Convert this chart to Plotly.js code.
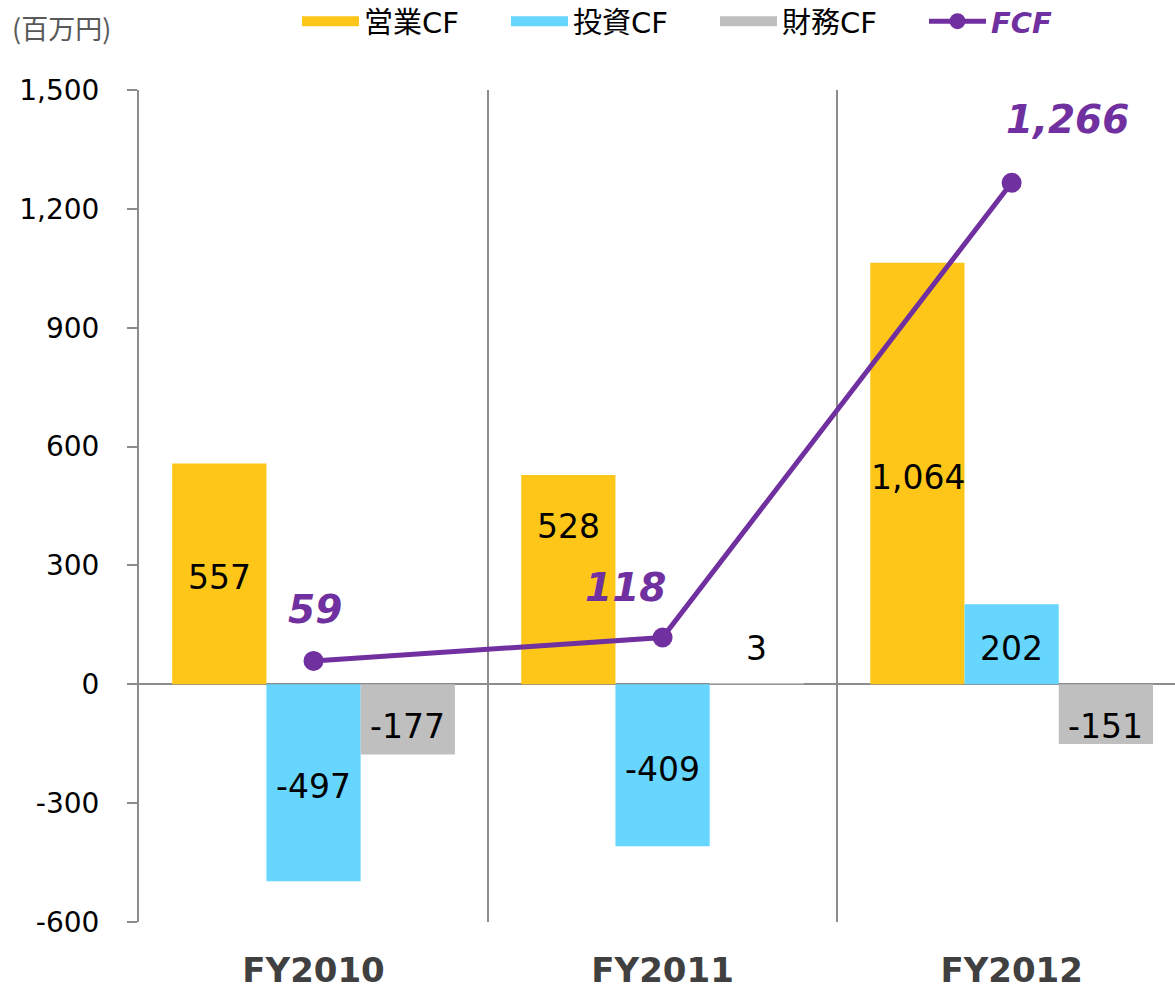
<!DOCTYPE html>
<html>
<head>
<meta charset="utf-8">
<script src="https://cdn.plot.ly/plotly-3.0.1.min.js"></script>
<style>html,body{margin:0;padding:0;background:#fff;}#chart{width:1175px;height:990px;}</style>
</head>
<body>
<div id="chart"></div>
<script>
// ---- data ----
const categories = ["FY2010", "FY2011", "FY2012"];
const operatingCF = [557, 528, 1064];   // 営業CF
const investingCF = [-497, -409, 202];  // 投資CF
const financingCF = [-177, 3, -151];    // 財務CF
const freeCF = [59, 118, 1266];         // FCF
const seriesNames = ["営業CF", "投資CF", "財務CF", "FCF"];
const yTickVals = [-600, -300, 0, 300, 600, 900, 1200, 1500];
const yTickText = ["-600", "-300", "0", "300", "600", "900", "1,200", "1,500"];
const unitLabel = "(百万円)";

// ---- style ----
const colors = ["#FFC61A", "#66D6FF", "#BFBFBF", "#7030A0"];
const axisGray = "#8C8C8C";
const FONT = "DejaVu Sans, Noto Sans CJK JP, sans-serif";
const fmt = v => v.toLocaleString("en-US");
const barOffsetPx = [-94, 0, 94];                           // bar centre offset in its group
const barLabelShift = [[-4, 53, -4], [-4, -4, -4], [-7, 35, -12]]; // label nudges (px, up +)
const fcfLabelShift = [[1, 51], [-37, 50], [56, 63]];

function barTrace(vals, name, color) {
  return {
    type: "bar", x: categories, y: vals, name: name,
    marker: {color: color},
    showlegend: false, hoverinfo: "skip"
  };
}
function legendTrace(name, color) {
  return {type: "scatter", mode: "lines", x: [null], y: [null], name: name,
    line: {color: color, width: 19}, hoverinfo: "skip"};
}

const barSeries = [operatingCF, investingCF, financingCF];
const traces = [
  barTrace(operatingCF, seriesNames[0], colors[0]),
  barTrace(investingCF, seriesNames[1], colors[1]),
  barTrace(financingCF, seriesNames[2], colors[2]),
  legendTrace(seriesNames[0], colors[0]),
  legendTrace(seriesNames[1], colors[1]),
  legendTrace(seriesNames[2], colors[2]),
  {
    type: "scatter", mode: "lines+markers", x: categories, y: freeCF,
    name: '<span style="color:#7030A0"><b><i>' + seriesNames[3] + '</i></b></span>',
    line: {color: colors[3], width: 5},
    marker: {color: colors[3], size: 20},
    hoverinfo: "skip", cliponaxis: false
  }
];

const annotations = [];
barSeries.forEach((vals, k) => {
  vals.forEach((v, i) => {
    annotations.push({
      x: categories[i], y: v / 2, xref: "x", yref: "y",
      text: fmt(v), showarrow: false, xanchor: "center", yanchor: "middle",
      xshift: barOffsetPx[k], yshift: barLabelShift[k][i],
      font: {family: FONT, size: 33, color: "#000"}
    });
  });
});
freeCF.forEach((v, i) => {
  annotations.push({
    x: categories[i], y: v, xref: "x", yref: "y",
    text: fmt(v), showarrow: false, xanchor: "center", yanchor: "middle",
    xshift: fcfLabelShift[i][0], yshift: fcfLabelShift[i][1],
    font: {family: FONT, size: 39, color: colors[3], weight: "bold", style: "italic"}
  });
});
annotations.push({
  xref: "paper", yref: "paper", x: -0.125, y: (90 - 28) / 832 + 1, xanchor: "left", yanchor: "middle",
  text: unitLabel, showarrow: false,
  font: {family: "Noto Sans CJK JP, sans-serif", size: 27, color: "#595959"}
});

const layout = {
  width: 1175, height: 990,
  margin: {l: 139, r: 0, t: 90, b: 68, pad: 0, autoexpand: false},
  paper_bgcolor: "#fff", plot_bgcolor: "#fff",
  barmode: "group", bargap: 0.19, bargroupgap: 0,
  showlegend: true,
  legend: {
    orientation: "h", x: 0.1525, y: 1.0825, xanchor: "left", yanchor: "middle",
    font: {family: FONT, size: 29, color: "#000"},
    itemwidth: 57, entrywidth: 137, entrywidthmode: "pixels",
    traceorder: "normal", bgcolor: "rgba(0,0,0,0)"
  },
  xaxis: {
    type: "category", range: [-0.5, 2.468],
    showgrid: true, gridcolor: axisGray, gridwidth: 1.5,
    tickson: "boundaries", ticks: "", showline: false, zeroline: false,
    ticklabelstandoff: 25,
    tickfont: {family: FONT, size: 34, color: "#404040", weight: "bold"}
  },
  yaxis: {
    range: [-600, 1500], tickvals: yTickVals, ticktext: yTickText,
    showgrid: false, zeroline: true, zerolinecolor: axisGray, zerolinewidth: 2,
    showline: true, linecolor: axisGray, linewidth: 2,
    ticks: "outside", ticklen: 10, tickwidth: 2, tickcolor: axisGray,
    ticklabelstandoff: 22,
    tickfont: {family: FONT, size: 28, color: "#000"}
  },
  annotations: annotations
};

Plotly.newPlot("chart", traces, layout, {displayModeBar: false, staticPlot: true});
</script>
</body>
</html>
